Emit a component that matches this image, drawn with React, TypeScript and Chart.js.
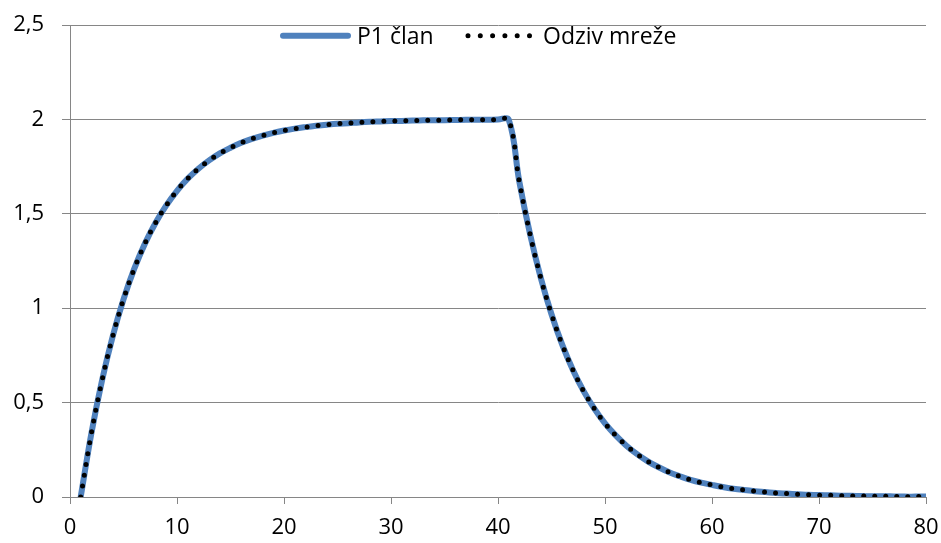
import React, { useEffect, useRef } from 'react';
import { Chart, registerables } from 'chart.js';

Chart.register(...registerables);

const xValues = [
  1, 2, 3, 4, 5, 6, 7, 8, 9, 10,
  11, 12, 13, 14, 15, 16, 17, 18, 19, 20,
  21, 22, 23, 24, 25, 26, 27, 28, 29, 30,
  31, 32, 33, 34, 35, 36, 37, 38, 39, 40,
  41, 42, 43, 44, 45, 46, 47, 48, 49, 50,
  51, 52, 53, 54, 55, 56, 57, 58, 59, 60,
  61, 62, 63, 64, 65, 66, 67, 68, 69, 70,
  71, 72, 73, 74, 75, 76, 77, 78, 79, 80,
];

const p1Clan = [
  0, 0.338, 0.619, 0.853, 1.047, 1.208, 1.342, 1.453, 1.545, 1.622,
  1.686, 1.739, 1.783, 1.82, 1.85, 1.876, 1.897, 1.914, 1.929, 1.941,
  1.951, 1.959, 1.966, 1.972, 1.977, 1.98, 1.984, 1.987, 1.989, 1.991,
  1.992, 1.994, 1.995, 1.996, 1.996, 1.997, 1.998, 1.998, 1.998, 1.999,
  1.999, 1.668, 1.391, 1.16, 0.968, 0.807, 0.673, 0.561, 0.468, 0.39,
  0.326, 0.272, 0.227, 0.189, 0.158, 0.131, 0.11, 0.091, 0.076, 0.064,
  0.053, 0.044, 0.037, 0.031, 0.026, 0.021, 0.018, 0.015, 0.012, 0.01,
  0.009, 0.007, 0.006, 0.005, 0.004, 0.004, 0.003, 0.002, 0.002, 0.002,
];

const odzivMreze = [
  0, 0.338, 0.619, 0.853, 1.047, 1.208, 1.342, 1.453, 1.545, 1.622,
  1.686, 1.739, 1.783, 1.82, 1.85, 1.876, 1.897, 1.914, 1.929, 1.941,
  1.951, 1.959, 1.966, 1.972, 1.977, 1.98, 1.984, 1.987, 1.989, 1.991,
  1.992, 1.994, 1.995, 1.996, 1.996, 1.997, 1.998, 1.998, 1.998, 1.999,
  1.999, 1.668, 1.391, 1.16, 0.968, 0.807, 0.673, 0.561, 0.468, 0.39,
  0.326, 0.272, 0.227, 0.189, 0.158, 0.131, 0.11, 0.091, 0.076, 0.064,
  0.053, 0.044, 0.037, 0.031, 0.026, 0.021, 0.018, 0.015, 0.012, 0.01,
  0.009, 0.007, 0.006, 0.005, 0.004, 0.004, 0.003, 0.002, 0.002, 0.002,
];

const seriesNames = ['P1 član', 'Odziv mreže'];
const xTickLabels = ['0', '10', '20', '30', '40', '50', '60', '70', '80'];
const yTickLabels = ['0', '0,5', '1', '1,5', '2', '2,5'];

const GRID = '#868686';
const FAMILY = '"Open Sans", sans-serif';
const FONT = { family: FAMILY, size: 22 };

// Legend drawn inside the plot area, at its top, like the original.
const legendLayout = [
  { x0: 213, x1: 278, tx: 287 },
  { x0: 398, x1: 460, tx: 473 },
];

const insideLegend = {
  id: 'insideLegend',
  afterDraw(chart: any) {
    const ctx = chart.ctx as CanvasRenderingContext2D;
    const a = chart.chartArea;
    const lineY = a.top + 10.7;
    const baseY = a.top + 19.3;
    ctx.save();
    chart.data.datasets.forEach((ds: any, i: number) => {
      const L = legendLayout[i];
      ctx.beginPath();
      ctx.strokeStyle = ds.borderColor;
      ctx.lineWidth = ds.borderWidth;
      ctx.lineCap = 'round';
      ctx.setLineDash(ds.borderDash ? [0, 12.3] : []);
      ctx.moveTo(a.left + L.x0, lineY);
      ctx.lineTo(a.left + L.x1, lineY);
      ctx.stroke();
      ctx.setLineDash([]);
      ctx.fillStyle = '#000';
      ctx.font = `23px ${FAMILY}`;
      ctx.textBaseline = 'alphabetic';
      ctx.textAlign = 'left';
      ctx.fillText(ds.label, a.left + L.tx, baseY);
    });
    ctx.restore();
  },
};

export default function App() {
  const ref = useRef<HTMLCanvasElement | null>(null);

  useEffect(() => {
    if (!ref.current) return;
    const chart = new Chart(ref.current, {
      type: 'line',
      data: {
        datasets: [
          {
            label: seriesNames[0],
            data: xValues.map((x, i) => ({ x, y: p1Clan[i] })),
            borderColor: '#4F81BD',
            backgroundColor: '#4F81BD',
            borderWidth: 6,
            borderCapStyle: 'round',
            borderJoinStyle: 'round',
            pointRadius: 0,
            tension: 0.4,
            fill: false,
            order: 2,
          },
          {
            label: seriesNames[1],
            data: xValues.map((x, i) => ({ x, y: odzivMreze[i] })),
            borderColor: '#000000',
            backgroundColor: '#000000',
            borderWidth: 5,
            borderDash: [0, 11],
            borderCapStyle: 'round',
            borderJoinStyle: 'round',
            pointRadius: 0,
            tension: 0.4,
            fill: false,
            order: 1,
          },
        ],
      },
      options: {
        animation: false,
        responsive: false,
        layout: { padding: { top: 25, right: 15, left: 0, bottom: 0 } },
        scales: {
          x: {
            type: 'linear',
            min: 0,
            max: 80,
            afterFit: (scale: any) => {
              scale.height = 46;
              scale.paddingLeft = 0;
              scale.paddingRight = 0;
            },
            ticks: {
              stepSize: 10,
              maxRotation: 0,
              padding: 11,
              color: '#000',
              font: FONT,
              callback: (_v: any, i: number) => xTickLabels[i],
            },
            grid: {
              drawOnChartArea: false,
              drawTicks: true,
              tickLength: 7,
              color: GRID,
              lineWidth: 1,
            },
            border: { display: true, color: GRID, width: 1 },
          },
          y: {
            type: 'linear',
            min: 0,
            max: 2.5,
            afterFit: (scale: any) => {
              scale.width = 70;
              scale.paddingTop = 0;
              scale.paddingBottom = 0;
            },
            ticks: {
              stepSize: 0.5,
              padding: 18,
              color: '#000',
              font: FONT,
              callback: (_v: any, i: number) => yTickLabels[i],
            },
            grid: {
              drawTicks: true,
              tickLength: 8,
              color: GRID,
              lineWidth: 1,
            },
            border: { display: true, color: GRID, width: 1 },
          },
        },
        plugins: {
          tooltip: { enabled: false },
          legend: { display: false },
        },
      },
      plugins: [insideLegend],
    } as any);
    return () => chart.destroy();
  }, []);

  return (
    <div style={{ position: 'absolute', left: 0, top: 0, width: 941, height: 543, background: '#fff' }}>
      <canvas ref={ref} width={941} height={543} style={{ display: 'block' }} />
    </div>
  );
}
